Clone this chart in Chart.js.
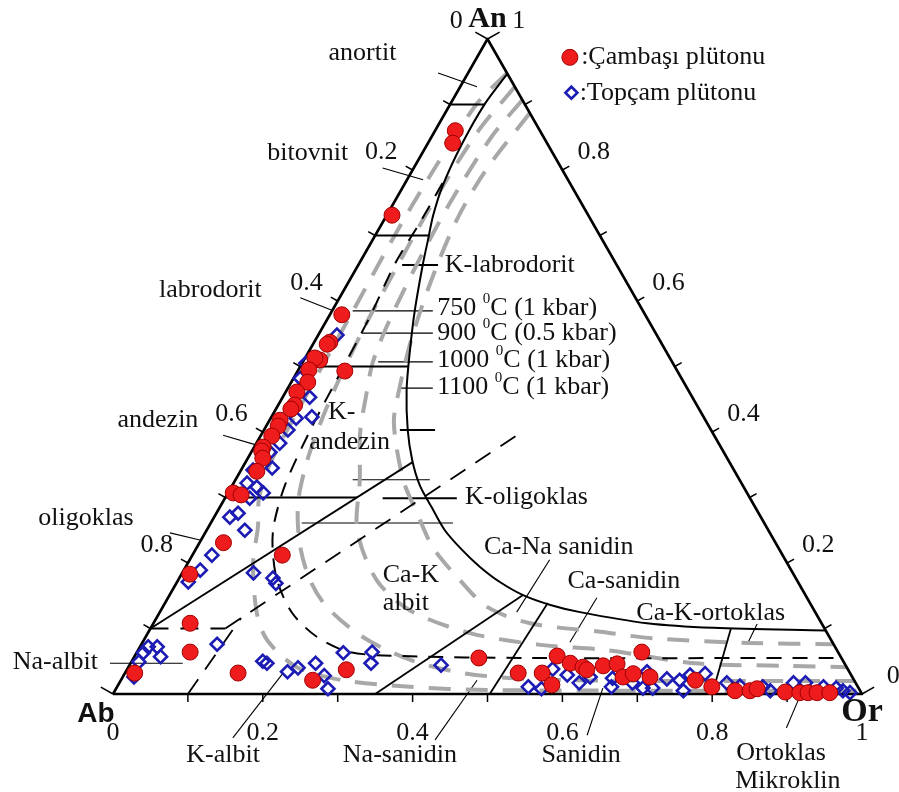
<!DOCTYPE html>
<html>
<head>
<meta charset="utf-8">
<script src="https://cdn.jsdelivr.net/npm/chart.js@4.4.0/dist/chart.umd.min.js"></script>
<style>
html,body{margin:0;padding:0;background:#fff}
#wrap{width:899px;height:792px}
</style>
</head>
<body>
<div id="wrap"><canvas id="c" width="899" height="792"></canvas></div>
<script>
// compositions are Or and An fractions, Ab = 1 - Or - An

// Çambaşı plütonu
const cambasiOr = [0.027,0.033,0.007,0.016,0.021,0.019,0.021,0.013,0.063,0.014,0.022,0.015,0.022,0.020,0.014,0.016,0.015,0.012,0.013,0.020,0.022,0.007,0.019,0.032,0.120,0.011,0.049,0.071,0.013,0.151,0.256,0.293,0.461,0.525,0.557,0.579,0.564,0.587,0.607,0.614,0.633,0.650,0.668,0.679,0.674,0.704,0.767,0.794,0.828,0.848,0.856,0.896,0.916,0.927,0.939,0.956];
const cambasiAn = [0.860,0.841,0.731,0.579,0.537,0.534,0.510,0.513,0.493,0.495,0.476,0.461,0.441,0.435,0.418,0.409,0.394,0.377,0.371,0.360,0.340,0.307,0.304,0.231,0.212,0.183,0.108,0.064,0.032,0.032,0.021,0.037,0.055,0.032,0.032,0.014,0.058,0.047,0.041,0.037,0.043,0.046,0.026,0.031,0.064,0.026,0.021,0.011,0.005,0.005,0.008,0.003,0.002,0.002,0.002,0.002];

// Topçam plütonu
const topcamOr = [0.025,0.005,0.009,0.036,0.054,0.034,0.032,0.031,0.025,0.040,0.016,0.018,0.034,0.047,0.033,0.029,0.021,0.051,0.026,0.022,0.015,0.095,0.125,0.133,0.101,0.011,0.023,0.009,0.035,0.010,0.015,0.175,0.182,0.216,0.227,0.247,0.268,0.283,0.276,0.314,0.321,0.416,0.549,0.568,0.568,0.592,0.614,0.624,0.660,0.655,0.685,0.696,0.703,0.716,0.728,0.746,0.756,0.775,0.759,0.811,0.831,0.862,0.875,0.900,0.916,0.943,0.961,0.972,0.983];
const topcamAn = [0.548,0.505,0.482,0.453,0.423,0.421,0.403,0.383,0.369,0.345,0.342,0.322,0.316,0.307,0.299,0.276,0.270,0.250,0.212,0.189,0.171,0.185,0.177,0.169,0.076,0.072,0.072,0.063,0.057,0.049,0.026,0.050,0.047,0.034,0.040,0.047,0.028,0.008,0.063,0.064,0.047,0.044,0.011,0.008,0.038,0.029,0.017,0.026,0.011,0.024,0.017,0.034,0.009,0.009,0.023,0.021,0.029,0.031,0.005,0.017,0.012,0.011,0.005,0.017,0.017,0.011,0.009,0.005,0.002];

// field boundaries, [Or, An]
const triangle = [[0,0],[1,0],[0,1],[0,0]];
const boundaryMain = [[0.053,0.947],[0.046,0.901],[0.046,0.84],[0.052,0.777],[0.062,0.731],[0.074,0.693],[0.086,0.655],[0.11,0.586],[0.134,0.525],[0.16,0.464],[0.192,0.403],[0.221,0.357],[0.25,0.319],[0.283,0.285],[0.318,0.25],[0.356,0.22],[0.393,0.194],[0.431,0.171],[0.472,0.151],[0.516,0.136],[0.561,0.125],[0.659,0.108],[0.751,0.101],[0.903,0.097]];
const boundaryDashed = [[0.05,0.78],[0.05,0.721],[0.048,0.658],[0.055,0.576],[0.058,0.5],[0.062,0.403],[0.07,0.32],[0.085,0.26],[0.101,0.224],[0.132,0.174],[0.177,0.124],[0.229,0.087],[0.284,0.064],[0.358,0.058],[0.525,0.055],[0.939,0.055]];
const plagLines = [
  [[0,0.9],[0.046,0.9]],
  [[0,0.7],[0.072,0.7]],
  [[0,0.5],[0.145,0.5]],
  [[0,0.3],[0.176,0.3]]
];
const solidCuts = [
  [[0,0.1],[0.223,0.354]],
  [[0.35,0],[0.472,0.151]],
  [[0.503,0],[0.511,0.139]],
  [[0.8,0],[0.775,0.1]]
];
const dashedCuts = [
  [[0,0.1],[0.1,0.1]],
  [[0.1,0.1],[0.346,0.4]],
  [[0.1,0],[0.113,0.116]]
];

// solvus isotherms 750, 900, 1000, 1100 °C
const solvus750 = [[0.052,0.948],[0.035,0.9],[0.028,0.8],[0.026,0.7],[0.028,0.585],[0.03,0.45],[0.034,0.35],[0.045,0.3],[0.066,0.255],[0.087,0.2],[0.13,0.124],[0.165,0.082],[0.225,0.041],[0.296,0.021],[0.391,0.011],[0.496,0.006],[0.99,0.005]];
const solvus900 = [[0.073,0.927],[0.058,0.86],[0.052,0.75],[0.053,0.65],[0.056,0.551],[0.065,0.45],[0.078,0.37],[0.094,0.311],[0.11,0.273],[0.138,0.224],[0.176,0.174],[0.219,0.133],[0.29,0.087],[0.371,0.052],[0.451,0.032],[0.541,0.023],[0.707,0.02],[0.98,0.02]];
const solvus1000 = [[0.093,0.907],[0.08,0.85],[0.075,0.75],[0.078,0.65],[0.085,0.56],[0.094,0.505],[0.11,0.456],[0.13,0.4],[0.166,0.327],[0.201,0.25],[0.265,0.174],[0.332,0.128],[0.43,0.093],[0.533,0.075],[0.626,0.067],[0.753,0.047],[0.879,0.043],[0.959,0.041]];
const solvus1100 = [[0.113,0.887],[0.098,0.8],[0.097,0.724],[0.11,0.627],[0.128,0.54],[0.149,0.467],[0.168,0.414],[0.224,0.327],[0.268,0.276],[0.315,0.224],[0.376,0.174],[0.433,0.133],[0.503,0.108],[0.603,0.095],[0.678,0.085],[0.808,0.078],[0.923,0.076]];

// tick values
const sideTicks = [0,0.1,0.2,0.3,0.4,0.5,0.6,0.7,0.8,0.9,1];
const leftTickLabels = [0,0.2,0.4,0.6,0.8];
const rightTickLabels = [0,0.2,0.4,0.6,0.8,1];
const baseTickLabels = [0,0.2,0.4,0.6,0.8,1];

// text, positions in plot units (x along Ab-Or, y = An height)
const nameText = ['anortit','bitovnit','labrodorit','andezin','oligoklas','Na-albit','K-albit','Na-sanidin','Sanidin','Ortoklas','Mikroklin','Ca-Na sanidin','Ca-sanidin','Ca-K-ortoklas'];
const nameX = [0.333,0.260,0.130,0.060,-0.036,-0.077,0.147,0.383,0.625,0.892,0.901,0.595,0.682,0.798];
const nameY = [0.979,0.826,0.617,0.418,0.269,0.049,-0.093,-0.093,-0.093,-0.090,-0.133,0.224,0.173,0.124];
const fieldText = ['K-','andezin','Ca-K','albit','K-labrodorit','K-oligoklas'];
const fieldX = [0.287,0.262,0.360,0.360,0.443,0.470];
const fieldY = [0.431,0.385,0.182,0.139,0.655,0.301];
const tempText = ['750','900','1000','1100'];
const tempTail = ['C (1 kbar)','C (0.5 kbar)','C (1 kbar)','C (1 kbar)'];
const tempX = 0.433;
const tempY = [0.589,0.551,0.510,0.469];

// leader lines [x1,y1,x2,y2]
const thinLeaders = [
  [0.434,0.948,0.486,0.927],[0.360,0.803,0.414,0.785],[0.250,0.605,0.294,0.585],
  [0.147,0.395,0.192,0.380],[0.076,0.246,0.116,0.235],[-0.004,0.047,0.093,0.047],
  [0.227,0.032,0.160,-0.067],[0.486,0.021,0.430,-0.070],[0.654,0.009,0.633,-0.063],
  [0.915,-0.009,0.899,-0.052],[0.583,0.205,0.539,0.125],[0.646,0.147,0.610,0.079],
  [0.860,0.107,0.848,0.079],[0.320,0.327,0.423,0.327],[0.252,0.261,0.454,0.261],
  [0.320,0.585,0.427,0.585],[0.332,0.551,0.427,0.551],[0.354,0.507,0.427,0.507],[0.383,0.467,0.427,0.467]
];
const thickLeaders = [[0.386,0.655,0.434,0.655],[0.383,0.403,0.430,0.403],[0.360,0.299,0.459,0.299]];

const legendText = [':Çambaşı plütonu', ':Topçam plütonu'];
const legendSymbolX = [0.610, 0.612];
const legendTextX = [0.625, 0.623];
const legendY = [0.972, 0.918];

const tern = (or, an) => ({x: or + an / 2, y: an});
const toXY = pts => pts.map(p => tern(p[0], p[1]));

const SERIF = '"Liberation Serif", "Times New Roman", serif';
const FONT = '26px ' + SERIF;
const RED = '#ee1c1c', REDLINE = '#a00000', BLUE = '#1c1cb4', GRAY = '#a8a8a8';

function lineDs(pts, color, width, dash, tension, order) {
  return {
    data: toXY(pts), showLine: true, pointRadius: 0, borderColor: color,
    borderWidth: width, borderDash: dash, tension: tension, clip: false,
    order: order, fill: false, borderCapStyle: 'butt', borderJoinStyle: 'round'
  };
}

const datasets = [
  {
    label: 'Çambaşı plütonu',
    data: cambasiOr.map((or, i) => tern(or, cambasiAn[i])),
    pointStyle: 'circle', pointRadius: 8, pointBorderWidth: 1,
    pointBackgroundColor: RED, pointBorderColor: REDLINE, clip: false, order: 0
  },
  {
    label: 'Topçam plütonu',
    data: topcamOr.map((or, i) => tern(or, topcamAn[i])),
    pointStyle: 'rectRot', pointRadius: 6.5, pointBorderWidth: 2.6,
    pointBackgroundColor: 'rgba(255,255,255,0)', pointBorderColor: BLUE, clip: false, order: 1
  },
  lineDs(triangle, '#000', 2.6, [], 0, 2),
  lineDs(boundaryMain, '#000', 2, [], 0.3, 2),
  lineDs(boundaryDashed, '#000', 2, [15, 11], 0.3, 2)
];
plagLines.forEach(l => datasets.push(lineDs(l, '#000', 2, [], 0, 2)));
solidCuts.forEach(l => datasets.push(lineDs(l, '#000', 1.8, [], 0, 2)));
dashedCuts.forEach(l => datasets.push(lineDs(l, '#000', 1.8, [18, 12], 0, 2)));
[solvus750, solvus900, solvus1000, solvus1100].forEach(l => datasets.push(lineDs(l, GRAY, 4, [22, 15], 0.3, 3)));

function edgeNormal(a, b, c) {
  // outward unit normal of edge a-b, pointing away from point c
  let nx = b.y - a.y, ny = -(b.x - a.x);
  const len = Math.hypot(nx, ny);
  nx /= len; ny /= len;
  const mx = (a.x + b.x) / 2, my = (a.y + b.y) / 2;
  if ((c.x - mx) * nx + (c.y - my) * ny > 0) { nx = -nx; ny = -ny; }
  return {x: nx, y: ny};
}

const overlay = {
  id: 'overlay',
  beforeDatasetsDraw(chart) {
    const {ctx, scales: {x, y}} = chart;
    const pix = (or, an) => { const p = tern(or, an); return {x: x.getPixelForValue(p.x), y: y.getPixelForValue(p.y)}; };
    const ab = pix(0, 0), or = pix(1, 0), an = pix(0, 1);
    const nL = edgeNormal(ab, an, or), nR = edgeNormal(or, an, ab), nB = edgeNormal(ab, or, an);
    ctx.save();
    ctx.strokeStyle = '#000';
    ctx.lineWidth = 1.5;
    const tick = (p, n, len) => { ctx.beginPath(); ctx.moveTo(p.x, p.y); ctx.lineTo(p.x + n.x * len, p.y + n.y * len); ctx.stroke(); };
    sideTicks.forEach(v => {
      const end = v === 0 || v === 1;
      tick(pix(0, 1 - v), nL, end ? 14 : 8);
      tick(pix(1 - v, v), nR, end ? 14 : 8);
      if (!end) tick(pix(v, 0), nB, 8);
    });
    // leaders
    const px = v => x.getPixelForValue(v), py = v => y.getPixelForValue(v);
    ctx.lineWidth = 1.1;
    thinLeaders.forEach(l => { ctx.beginPath(); ctx.moveTo(px(l[0]), py(l[1])); ctx.lineTo(px(l[2]), py(l[3])); ctx.stroke(); });
    ctx.lineWidth = 2;
    thickLeaders.forEach(l => { ctx.beginPath(); ctx.moveTo(px(l[0]), py(l[1])); ctx.lineTo(px(l[2]), py(l[3])); ctx.stroke(); });
    ctx.restore();
  },
  afterDatasetsDraw(chart) {
    const {ctx, scales: {x, y}} = chart;
    const pix = (or, an) => { const p = tern(or, an); return {x: x.getPixelForValue(p.x), y: y.getPixelForValue(p.y)}; };
    const px = v => x.getPixelForValue(v), py = v => y.getPixelForValue(v);
    const ab = pix(0, 0), or = pix(1, 0), an = pix(0, 1);
    const nL = edgeNormal(ab, an, or), nR = edgeNormal(or, an, ab);
    ctx.save();
    ctx.fillStyle = '#111';
    ctx.font = FONT;
    ctx.textAlign = 'center';
    ctx.textBaseline = 'middle';
    const fmt = v => String(v);
    leftTickLabels.forEach(v => { const p = pix(0, 1 - v); ctx.fillText(fmt(v), p.x + nL.x * 36, p.y + nL.y * 36); });
    rightTickLabels.forEach(v => { const p = pix(1 - v, v); ctx.fillText(fmt(v), p.x + nR.x * 36, p.y + nR.y * 36); });
    baseTickLabels.forEach(v => { const p = pix(v, 0); ctx.fillText(fmt(v), p.x, p.y + 39); });

    nameText.forEach((t, i) => ctx.fillText(t, px(nameX[i]), py(nameY[i])));
    ctx.textAlign = 'left';
    fieldText.forEach((t, i) => ctx.fillText(t, px(fieldX[i]), py(fieldY[i])));
    tempText.forEach((t, i) => {
      const x0 = px(tempX), y0 = py(tempY[i]);
      ctx.font = FONT;
      ctx.fillText(t + ' ', x0, y0);
      const w = ctx.measureText(t + ' ').width;
      ctx.font = '15px ' + SERIF;
      ctx.fillText('0', x0 + w, y0 - 9);
      const w2 = ctx.measureText('0').width;
      ctx.font = FONT;
      ctx.fillText(tempTail[i], x0 + w + w2, y0);
    });

    // corner names
    ctx.textAlign = 'center';
    ctx.textBaseline = 'alphabetic';
    ctx.font = 'bold 30px ' + SERIF;
    ctx.fillText('An', an.x, an.y - 12);
    ctx.font = 'bold 34px ' + SERIF;
    ctx.fillText('Or', or.x, or.y + 27);
    ctx.font = 'bold 28px "Liberation Sans", Arial, sans-serif';
    ctx.fillText('Ab', ab.x - 17, ab.y + 28);

    // legend
    ctx.textAlign = 'left';
    ctx.textBaseline = 'middle';
    ctx.font = FONT;
    const lx0 = px(legendSymbolX[0]), ly0 = py(legendY[0]);
    ctx.beginPath(); ctx.arc(lx0, ly0, 8, 0, Math.PI * 2);
    ctx.fillStyle = RED; ctx.fill(); ctx.strokeStyle = REDLINE; ctx.lineWidth = 1; ctx.stroke();
    const lx1 = px(legendSymbolX[1]), ly1 = py(legendY[1]);
    ctx.beginPath(); ctx.moveTo(lx1, ly1 - 6); ctx.lineTo(lx1 + 6, ly1); ctx.lineTo(lx1, ly1 + 6); ctx.lineTo(lx1 - 6, ly1); ctx.closePath();
    ctx.strokeStyle = BLUE; ctx.lineWidth = 2.6; ctx.stroke();
    ctx.fillStyle = '#111';
    legendText.forEach((t, i) => ctx.fillText(t, px(legendTextX[i]), py(legendY[i])));
    ctx.restore();
  }
};

new Chart(document.getElementById('c'), {
  type: 'scatter',
  data: {datasets: datasets},
  options: {
    responsive: false,
    animation: false,
    layout: {padding: {left: 113, right: 37, top: 39, bottom: 98}},
    scales: {
      x: {type: 'linear', min: 0, max: 1, display: false},
      y: {type: 'linear', min: 0, max: 1, display: false}
    },
    plugins: {legend: {display: false}, tooltip: {enabled: false}}
  },
  plugins: [overlay]
});
</script>
</body>
</html>
